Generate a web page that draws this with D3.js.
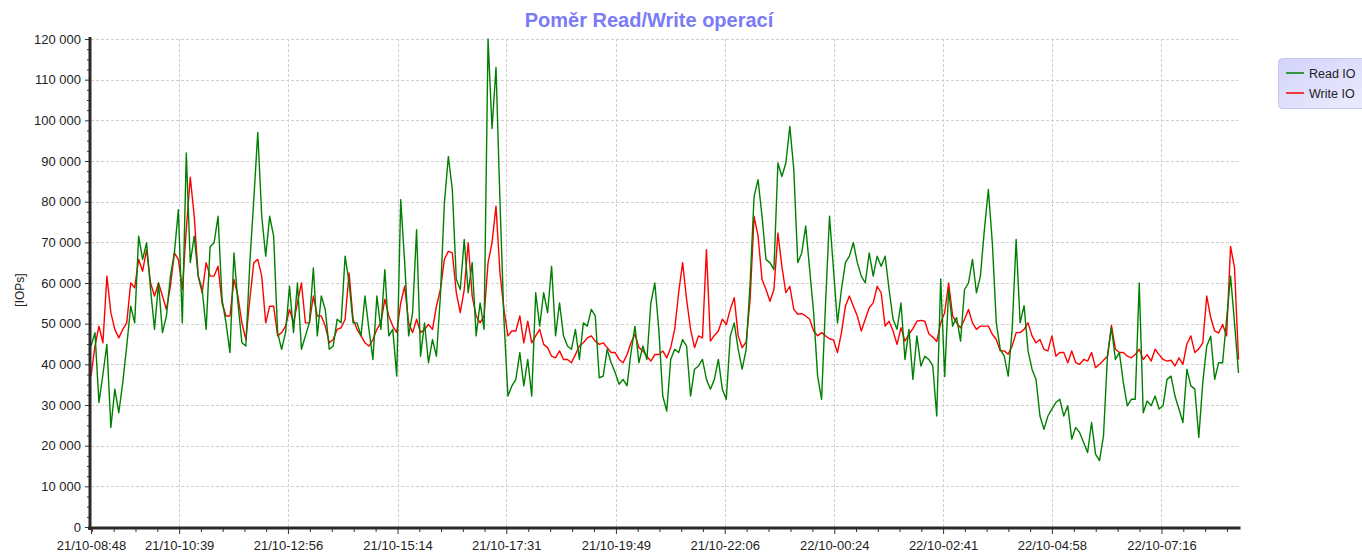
<!DOCTYPE html>
<html><head><meta charset="utf-8">
<script src="https://cdn.jsdelivr.net/npm/d3@7/dist/d3.min.js"></script>
<style>
body{margin:0;background:#fff;}
svg{display:block;font-family:"Liberation Sans",Arial,sans-serif;}
</style>
</head><body>
<svg id="chart" width="1362" height="558"></svg>
<script>
// ---- data ----
const chartTitle = "Poměr Read/Write operací";
const yAxisTitle = "[IOPs]";
const seriesNames = ["Read IO", "Write IO"];
const startTime = "2021-10-21T08:48";
const stepMinutes = 5;

const readIO = [
44500,47800,30600,37500,44900,24500,33900,28100,35500,44500,
54300,50200,71500,65800,69900,58400,48600,60000,47800,51900,
61700,67400,78000,50200,92000,65000,71500,61700,58400,48600,
69000,69900,76400,56000,50200,42900,67400,55100,45300,44500,
65000,80500,97000,76400,66600,76400,71500,47800,43700,47800,
59200,47800,60000,43700,47000,50200,63700,47000,56800,53500,
43700,44500,51100,50200,66600,60000,50200,50200,47000,56800,
48600,41200,56800,48600,63300,47000,48600,37100,80500,65000,
47000,52700,73100,42000,50200,40400,46100,42000,56800,79700,
91100,83000,60900,58400,70700,57600,65000,47000,55100,48600,
120000,98000,113000,80000,51000,32200,34700,36300,42900,34700,
41200,32200,57600,49400,57600,52700,64100,47000,55100,47000,
44500,43700,48600,41200,50200,49400,53500,51900,36700,37100,
43700,40400,38000,35100,36300,34700,42900,49400,40400,44500,
41200,55100,60000,48600,32200,28500,41200,43700,42900,
46100,44500,32200,38800,39600,41200,36300,33900,36300,41200,
33900,31400,47000,50200,43700,38800,43700,60000,81300,85400,
76400,65800,65000,63300,89500,86200,89500,98500,87900,65000,
67400,74000,63300,52700,37100,31400,55100,76400,63300,50200,
58400,65000,66600,69900,65000,61700,60000,67400,61700,
66600,64100,66600,58400,51100,48600,55100,41200,48600,36300,
47000,39600,42000,41200,39600,27300,61000,37000,58400,49400,
51500,45700,58400,60000,65800,57600,61700,73100,83000,69900,
50200,43700,42000,37100,48600,70700,50200,54400,43300,38800,
36300,27300,24000,27300,29000,30600,31400,27300,29800,21600,
24500,23200,20800,18300,25700,17900,16300,22400,42000,49000,
41200,42900,35500,29800,31400,31400,60000,28100,31000,29800,
32200,29000,29800,36300,37100,32200,29000,25700,38800,34700,
33900,22000,35500,44500,46900,36300,40400,40400,51100,61700,
50200,37900
];

const writeIO = [
37100,44500,49400,45300,61700,52700,48600,46500,48600,50200,
60000,58800,65800,62900,68200,60000,56800,60000,56800,53500,
59200,67400,65800,58400,73100,86000,76400,61700,57600,65000,
61700,61700,64100,55100,51900,51900,60900,56800,50200,46100,
56000,65000,65800,61700,50200,54300,54300,47000,47800,49400,
53500,50200,55100,60000,50200,50200,56800,51900,51900,49400,
45300,46100,48600,49000,51100,62500,51100,48600,47000,45300,
44500,46100,48600,50200,56000,51900,49400,47800,55100,59200,
50200,47800,51100,47800,48600,49800,48600,54300,58400,65800,
67800,67400,57600,52700,58400,69900,56800,51900,50200,51900,
65000,69900,78900,62500,53500,47000,48200,48200,51900,45300,
50600,45300,47000,48600,44900,44100,42000,41600,43300,41200,
41200,40400,42400,44500,45300,46500,47000,45700,44900,45300,
44100,42900,42900,41200,40400,42400,45300,47400,44100,43300,
42000,40800,42400,42400,43300,41600,44100,48600,57600,
65000,56000,48600,44100,47000,46500,68200,45700,47100,48200,
51100,49800,53500,56400,47000,44100,45500,56000,76400,71500,
60900,58400,55500,58400,72300,64100,57600,59200,53500,52300,
52500,51900,51100,48200,47000,47800,47000,46300,46000,42900,
47800,54300,56800,54300,51900,48200,51100,53900,55100,
59200,57600,49400,50600,48200,44900,49000,45700,47400,48800,
50600,50800,50600,47500,46700,45600,50200,52700,60000,51900,
50200,49000,51100,53500,50200,48600,49400,49400,49400,47400,
46100,43300,43300,42500,44500,47800,47800,48600,50200,47000,
45300,46100,43700,43300,47000,42000,42900,42900,40400,43300,
40400,40000,41200,40800,42900,39200,40000,41000,42000,49600,
43700,42900,42900,42000,41600,42400,43700,41200,42400,40800,
43700,42400,41200,40800,41000,39600,41600,40000,45000,47000,
42900,43800,45300,56800,51500,48200,47700,49800,47000,69000,
63700,41200
];

const xTickTimes = ["2021-10-21T08:48","2021-10-21T10:39","2021-10-21T12:56","2021-10-21T15:14",
  "2021-10-21T17:31","2021-10-21T19:49","2021-10-21T22:06","2021-10-22T00:24",
  "2021-10-22T02:41","2021-10-22T04:58","2021-10-22T07:16"];
const xTickLabels = ["21/10-08:48","21/10-10:39","21/10-12:56","21/10-15:14","21/10-17:31",
  "21/10-19:49","21/10-22:06","22/10-00:24","22/10-02:41","22/10-04:58","22/10-07:16"];
const yTicks = [0,10000,20000,30000,40000,50000,60000,70000,80000,90000,100000,110000,120000];
const yMinorStep = 2500;

// ---- layout ----
const X0 = 91, X1 = 1238.5, Y0 = 527, Y1 = 39;
const colors = ["#008000", "#ff0000"];

const svg = d3.select("#chart");
const parse = d3.timeParse("%Y-%m-%dT%H:%M");
const t0 = parse(startTime);
const times = readIO.map((_, i) => d3.timeMinute.offset(t0, i * stepMinutes));
const xt = xTickTimes.map(parse);

const x = d3.scaleTime().domain([times[0], times[times.length - 1]]).range([X0, X1]);
const y = d3.scaleLinear().domain([0, 120000]).range([Y0, Y1]);

const fmtY = v => d3.format(",")(v).replace(/,/g, " ");

// grid
const grid = svg.append("g").attr("stroke", "#cfcfcf").attr("stroke-dasharray", "3,2").attr("stroke-width", 1);
yTicks.filter(v => v > 0).forEach(v => {
  grid.append("line").attr("x1", X0).attr("x2", X1).attr("y1", Math.round(y(v)) + 0.5).attr("y2", Math.round(y(v)) + 0.5);
});
xt.slice(1).forEach(t => {
  grid.append("line").attr("x1", Math.round(x(t)) + 0.5).attr("x2", Math.round(x(t)) + 0.5).attr("y1", Y1).attr("y2", Y0);
});

// lines
const series = [writeIO, readIO];
const serColors = [colors[1], colors[0]];
const lineGen = d3.line().x((d, i) => x(times[i])).y(d => y(d));
series.forEach((s, k) => {
  svg.append("path").datum(s).attr("fill", "none").attr("stroke", serColors[k])
    .attr("stroke-width", 1.4).attr("stroke-linejoin", "round").attr("d", lineGen);
});

// minor x ticks
const majorStep = (xt[xt.length - 1] - xt[1]) / (xt.length - 2);
const minorX = [];
for (let t = +xt[1] - majorStep / 5; t >= +times[0]; t -= majorStep / 5) minorX.push(new Date(t));
for (let j = 1; j < xt.length; j++) {
  const a = +xt[j], b = j + 1 < xt.length ? +xt[j + 1] : +a + majorStep;
  for (let m = 1; m < 5; m++) {
    const t = a + (b - a) * m / 5;
    if (t <= +times[times.length - 1]) minorX.push(new Date(t));
  }
}
const minorY = d3.range(0, 120001, yMinorStep).filter(v => v % 10000 !== 0);

// axes
const axL = svg.append("g").attr("transform", `translate(${X0 - 1},0)`)
  .call(d3.axisLeft(y).tickValues(yTicks).tickFormat(fmtY).tickSize(5).tickSizeOuter(0).tickPadding(4));
svg.append("g").attr("transform", `translate(${X0 - 1},0)`)
  .call(d3.axisLeft(y).tickValues(minorY).tickFormat("").tickSize(3).tickSizeOuter(0))
  .select(".domain").remove();
const axB = svg.append("g").attr("transform", `translate(0,${Y0 + 1})`)
  .call(d3.axisBottom(x).tickValues(xt).tickFormat((d, i) => xTickLabels[i]).tickSize(6).tickSizeOuter(0).tickPadding(7));
svg.append("g").attr("transform", `translate(0,${Y0 + 1})`)
  .call(d3.axisBottom(x).tickValues(minorX).tickFormat("").tickSize(4).tickSizeOuter(0))
  .select(".domain").remove();

svg.selectAll(".tick line").attr("stroke", "#333");
svg.selectAll(".tick text").attr("fill", "#222").style("font-size", "13px").style("font-family", "'Liberation Sans',Arial,sans-serif");
axL.select(".domain").remove();
axB.select(".domain").remove();
// thick axis lines
svg.append("line").attr("x1", X0 - 1).attr("x2", X0 - 1).attr("y1", Y1 - 2).attr("y2", Y0 + 3)
  .attr("stroke", "#2a2a2a").attr("stroke-width", 3);
svg.append("line").attr("x1", X0 - 3).attr("x2", X1 + 2).attr("y1", Y0 + 1).attr("y2", Y0 + 1)
  .attr("stroke", "#2a2a2a").attr("stroke-width", 3);

// title
svg.append("text").attr("x", 649).attr("y", 27).attr("text-anchor", "middle")
  .attr("fill", "#7b7bf7").style("font-size", "20px").style("font-weight", "bold").text(chartTitle);

// y axis title
svg.append("text").attr("transform", "translate(24,290) rotate(-90)").attr("text-anchor", "middle")
  .attr("fill", "#222").style("font-size", "12px").text(yAxisTitle);

// legend
const defs = svg.append("defs");
const gr = defs.append("linearGradient").attr("id", "lg").attr("x1", "0").attr("y1", "0").attr("x2", "1").attr("y2", "1");
gr.append("stop").attr("offset", "0").attr("stop-color", "#d2d2fb");
gr.append("stop").attr("offset", "1").attr("stop-color", "#eeeeff");
const lg = svg.append("g");
lg.append("rect").attr("x", 1278.5).attr("y", 58.5).attr("width", 100).attr("height", 50).attr("rx", 4)
  .attr("fill", "url(#lg)").attr("stroke", "#c6c6ef");
seriesNames.forEach((n, i) => {
  const yy = 73 + i * 20;
  lg.append("line").attr("x1", 1286).attr("x2", 1304).attr("y1", yy).attr("y2", yy)
    .attr("stroke", colors[i]).attr("stroke-width", 1.5);
  lg.append("text").attr("x", 1309).attr("y", yy + 4.5).attr("fill", "#222").style("font-size", "12.5px").text(n);
});
</script>
</body></html>
